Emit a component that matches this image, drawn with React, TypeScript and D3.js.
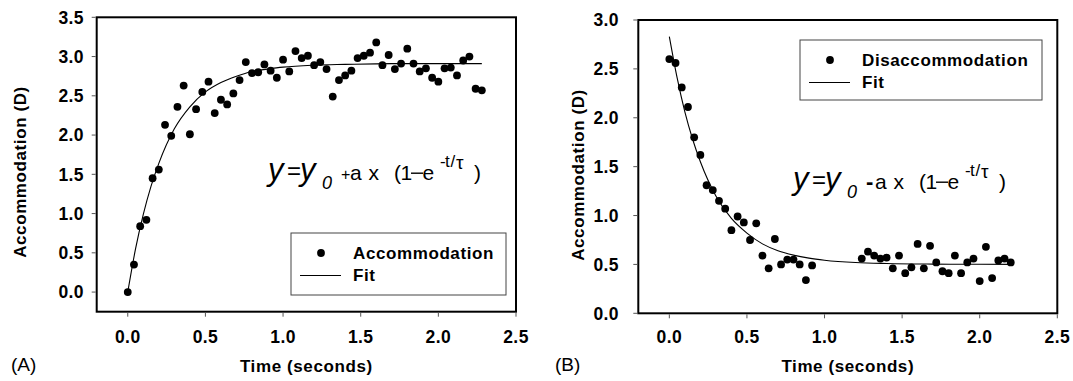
import * as d3 from "d3";

// Panel A: accommodation response
const accTime = [
  0.0, 0.04, 0.08, 0.12, 0.16, 0.2, 0.24, 0.28, 0.32, 0.36, 0.4, 0.44, 0.48, 0.52, 0.56,
  0.6, 0.64, 0.68, 0.72, 0.76, 0.8, 0.84, 0.88, 0.92, 0.96, 1.0, 1.04, 1.08, 1.12, 1.16,
  1.2, 1.24, 1.28, 1.32, 1.36, 1.4, 1.44, 1.48, 1.52, 1.56, 1.6, 1.64, 1.68, 1.72, 1.76,
  1.8, 1.84, 1.88, 1.92, 1.96, 2.0, 2.04, 2.08, 2.12, 2.16, 2.2, 2.24, 2.28,
];
const accValue = [
  0.0, 0.35, 0.84, 0.92, 1.45, 1.56, 2.13, 1.99, 2.36, 2.63, 2.01, 2.33, 2.55, 2.68, 2.28,
  2.45, 2.39, 2.53, 2.7, 2.93, 2.79, 2.8, 2.9, 2.82, 2.73, 2.96, 2.81, 3.07, 2.98, 3.01,
  2.89, 2.93, 2.84, 2.49, 2.7, 2.76, 2.82, 2.98, 3.01, 3.05, 3.18, 2.89, 3.02, 2.84, 2.91,
  3.1, 2.91, 2.81, 2.85, 2.73, 2.68, 2.85, 2.86, 2.76, 2.95, 3.0, 2.59, 2.57,
];
const accFitTime = [0, 0.05, 0.1, 0.15, 0.2, 0.3, 0.4, 0.5, 0.6, 0.7, 0.8, 0.9, 1.0, 1.2, 1.4, 1.7, 2.0, 2.28];
const accFitValue = [0, 0.55, 0.99, 1.35, 1.64, 2.08, 2.36, 2.55, 2.67, 2.75, 2.81, 2.84, 2.865, 2.89, 2.9, 2.91, 2.91, 2.91];
const accYTicks = [0, 0.5, 1.0, 1.5, 2.0, 2.5, 3.0, 3.5];

// Panel B: disaccommodation response
const disTime = [
  0.0, 0.04, 0.08, 0.12, 0.16, 0.2, 0.24, 0.28, 0.32, 0.36, 0.4, 0.44, 0.48, 0.52, 0.56,
  0.6, 0.64, 0.68, 0.72, 0.76, 0.8, 0.84, 0.88, 0.92,
  1.24, 1.28, 1.32, 1.36, 1.4, 1.44, 1.48, 1.52, 1.56, 1.6, 1.64, 1.68, 1.72, 1.76, 1.8,
  1.84, 1.88, 1.92, 1.96, 2.0, 2.04, 2.08, 2.12, 2.16, 2.2,
];
const disValue = [
  2.6, 2.56, 2.31, 2.11, 1.8, 1.62, 1.31, 1.26, 1.15, 1.07, 0.85, 0.99, 0.93, 0.75, 0.92,
  0.59, 0.46, 0.76, 0.5, 0.55, 0.55, 0.5, 0.34, 0.49,
  0.56, 0.63, 0.59, 0.56, 0.57, 0.46, 0.59, 0.41, 0.47, 0.71, 0.46, 0.69, 0.52, 0.43, 0.41,
  0.59, 0.41, 0.52, 0.56, 0.33, 0.68, 0.36, 0.54, 0.56, 0.52,
];
const disFitTime = [0, 0.05, 0.1, 0.15, 0.2, 0.3, 0.4, 0.5, 0.6, 0.7, 0.8, 0.9, 1.0, 1.2, 1.4, 1.7, 2.0, 2.22];
const disFitValue = [2.83, 2.41, 2.06, 1.78, 1.55, 1.2, 0.97, 0.82, 0.71, 0.64, 0.595, 0.564, 0.543, 0.519, 0.509, 0.503, 0.501, 0.5];
const disYTicks = [0, 0.5, 1.0, 1.5, 2.0, 2.5, 3.0];

const xTicks = [0, 0.5, 1.0, 1.5, 2.0, 2.5];

const FONT = "'Liberation Sans', Arial, Helvetica, sans-serif";

interface PanelProps {
  left: number;
  right: number;
  top: number;
  bottom: number;
  yDomain: [number, number];
  yTicks: number[];
  times: number[];
  values: number[];
  fitTimes: number[];
  fitValues: number[];
  tickLabelX: number;
  titleX: number;
  titleY: number;
  letter: string;
  letterX: number;
  legend: { x: number; y: number; w: number; h: number; label: string };
  eq: { x: number; y: number; sign: string };
}

// y = y0 ± a x (1 – e^(-t/τ)), each glyph placed by hand like the original
function Equation({ x, y, sign }: { x: number; y: number; sign: string }) {
  const plus = sign === "+";
  return (
    <g fontFamily={FONT} fill="#000">
      <text x={x} y={y} fontSize={31} fontStyle="italic">y</text>
      <text x={x + 19} y={y - 1} fontSize={24}>=</text>
      <text x={x + 32} y={y} fontSize={31} fontStyle="italic">y</text>
      <text x={x + 54} y={y + 9} fontSize={18} fontStyle="italic">0</text>
      <text x={x + 73} y={y} fontSize={plus ? 16 : 22} fontWeight={plus ? "normal" : "bold"}>
        {plus ? "+" : "-"}
      </text>
      <text x={x + 82} y={y} fontSize={21}>a</text>
      <text x={x + 100.5} y={y} fontSize={21}>x</text>
      <text x={x + 126} y={y} fontSize={21}>(</text>
      <text x={x + 132.5} y={y} fontSize={21}>1</text>
      {/* long dash joining "1" and "e" */}
      <rect x={x + 143} y={y - 7.5} width={12} height={1.4} fill="#000" />
      <text x={x + 154.5} y={y} fontSize={21}>e</text>
      <text x={x + 172} y={y - 13} fontSize={17}>-</text>
      <text x={x + 177} y={y - 13} fontSize={17}>t</text>
      <text x={x + 182.5} y={y - 13} fontSize={17}>/</text>
      <text x={x + 188} y={y - 11} fontSize={19}>τ</text>
      <text x={x + 206} y={y} fontSize={21}>)</text>
    </g>
  );
}

function Panel(p: PanelProps) {
  const x = d3.scaleLinear([-0.2, 2.5], [p.left, p.right]);
  const y = d3.scaleLinear(p.yDomain, [p.bottom, p.top]);
  const fitLine = d3
    .line<number>()
    .x((i) => x(p.fitTimes[i]))
    .y((i) => y(p.fitValues[i]))
    .curve(d3.curveMonotoneX)(d3.range(p.fitTimes.length));
  const lg = p.legend;

  return (
    <g fontFamily={FONT}>
      {/* fit curve */}
      <path d={fitLine ?? ""} fill="none" stroke="#000" strokeWidth={1.1} />
      {/* data */}
      {p.times.map((t, i) => (
        <circle key={i} cx={x(t)} cy={y(p.values[i])} r={3.9} fill="#000" />
      ))}

      {/* frame */}
      <rect
        x={p.left}
        y={p.top}
        width={p.right - p.left}
        height={p.bottom - p.top}
        fill="none"
        stroke="#000"
        strokeWidth={2}
      />

      {/* x axis */}
      {xTicks.map((t) => (
        <g key={t}>
          <line x1={x(t)} x2={x(t)} y1={p.bottom + 1} y2={p.bottom + 5} stroke="#555" strokeWidth={1} />
          <text
            x={x(t)}
            y={343}
            textAnchor="middle"
            fontSize={17.5}
            fontWeight="bold"
            letterSpacing={0.4}
          >
            {t.toFixed(1)}
          </text>
        </g>
      ))}
      <text
        x={(p.left + p.right) / 2}
        y={372}
        textAnchor="middle"
        fontSize={17}
        fontWeight="bold"
        letterSpacing={0.6}
      >
        Time (seconds)
      </text>

      {/* y axis */}
      {p.yTicks.map((v) => (
        <g key={v}>
          <line x1={p.left - 5} x2={p.left - 1} y1={y(v)} y2={y(v)} stroke="#555" strokeWidth={1} />
          <text
            x={p.tickLabelX}
            y={y(v)}
            dy="0.36em"
            textAnchor="end"
            fontSize={17.5}
            fontWeight="bold"
            letterSpacing={0.4}
          >
            {v.toFixed(1)}
          </text>
        </g>
      ))}
      <text
        transform={`translate(${p.titleX},${p.titleY}) rotate(-90)`}
        textAnchor="middle"
        dy="0.36em"
        fontSize={17}
        fontWeight="bold"
        letterSpacing={0.6}
      >
        Accommodation (D)
      </text>

      <text x={p.letterX} y={371} fontSize={19}>
        {p.letter}
      </text>

      {/* legend */}
      <rect x={lg.x} y={lg.y} width={lg.w} height={lg.h} fill="#fff" stroke="#444" strokeWidth={1} />
      <circle cx={lg.x + 30} cy={lg.y + 20} r={3.9} fill="#000" />
      <text x={lg.x + 62} y={lg.y + 26} fontSize={17} fontWeight="bold" letterSpacing={0.6}>
        {lg.label}
      </text>
      <line x1={lg.x + 9} x2={lg.x + 50} y1={lg.y + 42.5} y2={lg.y + 42.5} stroke="#000" strokeWidth={1} />
      <text x={lg.x + 62} y={lg.y + 48} fontSize={17} fontWeight="bold" letterSpacing={0.6}>
        Fit
      </text>

      <Equation {...p.eq} />
    </g>
  );
}

export default function App() {
  return (
    <svg
      width={1073}
      height={381}
      viewBox="0 0 1073 381"
      style={{ position: "absolute", left: 0, top: 0, background: "#fff" }}
    >
      <rect width={1073} height={381} fill="#fff" />
      <Panel
        left={96.7}
        right={516}
        top={17.3}
        bottom={311.7}
        yDomain={[-0.25, 3.5]}
        yTicks={accYTicks}
        times={accTime}
        values={accValue}
        fitTimes={accFitTime}
        fitValues={accFitValue}
        tickLabelX={84}
        titleX={20}
        titleY={172}
        letter="(A)"
        letterX={11}
        legend={{ x: 291, y: 233, w: 215, h: 62, label: "Accommodation" }}
        eq={{ x: 268, y: 180, sign: "+" }}
      />
      <Panel
        left={638.3}
        right={1057.3}
        top={20}
        bottom={313.3}
        yDomain={[0, 3]}
        yTicks={disYTicks}
        times={disTime}
        values={disValue}
        fitTimes={disFitTime}
        fitValues={disFitValue}
        tickLabelX={619}
        titleX={578}
        titleY={175}
        letter="(B)"
        letterX={555}
        legend={{ x: 800, y: 40, w: 242, h: 60, label: "Disaccommodation" }}
        eq={{ x: 793, y: 189, sign: "-" }}
      />
    </svg>
  );
}
